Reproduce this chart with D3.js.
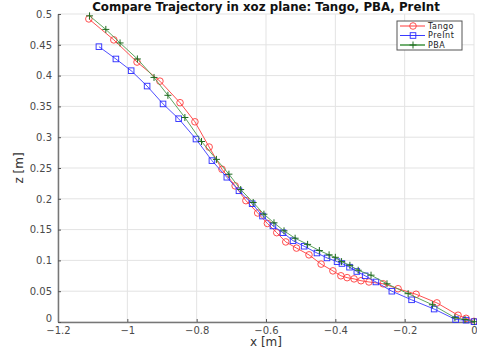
<!DOCTYPE html>
<html>
<head>
<meta charset="utf-8">
<script src="https://cdn.jsdelivr.net/npm/d3@7"></script>
<style>
  body { margin: 0; background: #fff; }
  text { font-family: "DejaVu Sans", sans-serif; }
</style>
</head>
<body>
<div id="chart"></div>
<script>
// trajectory data (x [m], z [m])
var tangoX = [-1.111, -1.039, -0.972, -0.906, -0.848, -0.805, -0.764, -0.727, -0.689, -0.658,
  -0.624, -0.596, -0.569, -0.543, -0.512, -0.476, -0.441, -0.407, -0.384, -0.366,
  -0.346, -0.326, -0.303, -0.262, -0.219, -0.167, -0.107, -0.046, -0.023, 0.0];
var tangoZ = [0.492, 0.458, 0.422, 0.391, 0.356, 0.325, 0.284, 0.248, 0.221, 0.197,
  0.177, 0.160, 0.145, 0.130, 0.120, 0.109, 0.094, 0.083, 0.075, 0.072,
  0.070, 0.067, 0.065, 0.062, 0.054, 0.045, 0.031, 0.011, 0.006, 0.001];

var preintX = [-1.082, -1.033, -0.989, -0.943, -0.897, -0.852, -0.802, -0.756, -0.713, -0.678,
  -0.640, -0.610, -0.580, -0.551, -0.522, -0.490, -0.453, -0.424, -0.395, -0.381,
  -0.359, -0.338, -0.314, -0.283, -0.237, -0.180, -0.115, -0.053, -0.023, 0.0];
var preintZ = [0.447, 0.427, 0.408, 0.383, 0.354, 0.330, 0.297, 0.262, 0.235, 0.213,
  0.192, 0.172, 0.156, 0.145, 0.132, 0.123, 0.112, 0.104, 0.098, 0.095,
  0.089, 0.082, 0.075, 0.065, 0.050, 0.036, 0.021, 0.004, 0.003, 0.0005];

var pbaX = [-1.109, -1.062, -1.021, -0.971, -0.923, -0.883, -0.834, -0.786, -0.743, -0.707,
  -0.673, -0.637, -0.606, -0.577, -0.548, -0.516, -0.480, -0.446, -0.418, -0.400,
  -0.382, -0.358, -0.334, -0.297, -0.251, -0.190, -0.120, -0.055, -0.026, 0.001];
var pbaZ = [0.497, 0.475, 0.453, 0.427, 0.397, 0.368, 0.332, 0.293, 0.264, 0.240,
  0.215, 0.194, 0.175, 0.161, 0.148, 0.136, 0.126, 0.116, 0.109, 0.105,
  0.098, 0.092, 0.084, 0.076, 0.062, 0.046, 0.028, 0.007, 0.004, 0.0005];

var xTicks = [-1.2, -1, -0.8, -0.6, -0.4, -0.2, 0];
var zTicks = [0, 0.05, 0.1, 0.15, 0.2, 0.25, 0.3, 0.35, 0.4, 0.45, 0.5];

var titleText = 'Compare Trajectory in xoz plane: Tango, PBA, PreInt';
var seriesNames = ['Tango', 'PreInt', 'PBA'];

// set the dimensions and margins of the graph
var margin = {top: 14, right: 3, bottom: 31, left: 58},
  width = 477 - margin.left - margin.right,
  height = 353 - margin.top - margin.bottom;

var svg = d3
  .select('#chart')
  .append('svg')
  .attr('width', width + margin.left + margin.right)
  .attr('height', height + margin.top + margin.bottom);

var g = svg.append('g')
  .attr('transform', 'translate(' + margin.left + ',' + margin.top + ')');

var x = d3.scaleLinear().domain([-1.2, 0]).range([0, width]);
var y = d3.scaleLinear().domain([0, 0.5]).range([height, 0]);

// grid
g.append('g')
  .selectAll('line.vg')
  .data(xTicks)
  .enter()
  .append('line')
  .attr('x1', function (d) { return x(d); })
  .attr('x2', function (d) { return x(d); })
  .attr('y1', 0)
  .attr('y2', height)
  .attr('stroke', '#e3e3e3')
  .attr('stroke-width', 1);
g.append('g')
  .selectAll('line.hg')
  .data(zTicks)
  .enter()
  .append('line')
  .attr('x1', 0)
  .attr('x2', width)
  .attr('y1', function (d) { return y(d); })
  .attr('y2', function (d) { return y(d); })
  .attr('stroke', '#e3e3e3')
  .attr('stroke-width', 1);

// axes (ticks pointing inward, matlab style)
var xAxis = g.append('g')
  .attr('transform', 'translate(0,' + height + ')')
  .call(d3.axisBottom(x).tickValues(xTicks).tickSize(-3).tickPadding(6)
    .tickFormat(function (d) { return d3.format('')(+d.toFixed(1)); }).tickSizeOuter(0));
var yAxis = g.append('g')
  .call(d3.axisLeft(y).tickValues(zTicks).tickSize(-3).tickPadding(6)
    .tickFormat(function (d) { return d3.format('')(+d.toFixed(2)); }).tickSizeOuter(0));

[xAxis, yAxis].forEach(function (a) {
  a.select('.domain').attr('stroke', '#777').attr('stroke-width', 1.5);
  a.selectAll('.tick line').attr('stroke', '#555');
  a.selectAll('.tick text').attr('fill', '#4a4a4a').style('font-size', '10px');
});
xAxis.selectAll('.tick text').attr('dy', '0.62em');
// lift the "0" of the z axis a little so it clears "-1.2"
yAxis.selectAll('.tick text').filter(function (d) { return d === 0; }).attr('dy', '-0.05em');

// axis labels
svg.append('text')
  .attr('x', margin.left + width / 2)
  .attr('y', 346)
  .attr('text-anchor', 'middle')
  .attr('fill', '#333')
  .style('font-size', '12px')
  .text('x [m]');
svg.append('text')
  .attr('transform', 'translate(23,' + (margin.top + height / 2) + ') rotate(-90)')
  .attr('text-anchor', 'middle')
  .attr('fill', '#333')
  .style('font-size', '12px')
  .text('z [m]');

// title
svg.append('text')
  .attr('x', 266)
  .attr('y', 11)
  .attr('text-anchor', 'middle')
  .attr('fill', '#111')
  .style('font-size', '11.8px')
  .style('font-weight', 'bold')
  .text(titleText);

var series = [
  {name: seriesNames[0], xs: tangoX, zs: tangoZ, line: '#ff3b3b', mark: '#ff3b3b', shape: 'circle'},
  {name: seriesNames[1], xs: preintX, zs: preintZ, line: '#3b3bff', mark: '#2a2aff', shape: 'square'},
  {name: seriesNames[2], xs: pbaX, zs: pbaZ, line: '#4c9a4c', mark: '#1f6b1f', shape: 'plus'}
];

var line = d3.line()
  .x(function (d) { return x(d[0]); })
  .y(function (d) { return y(d[1]); });

function drawMarker(sel, shape, color) {
  if (shape === 'circle') {
    sel.append('circle').attr('r', 3.3).attr('fill', 'none').attr('stroke', color).attr('stroke-width', 0.9);
  } else if (shape === 'square') {
    sel.append('rect').attr('x', -2.8).attr('y', -2.8).attr('width', 5.6).attr('height', 5.6)
      .attr('fill', 'none').attr('stroke', color).attr('stroke-width', 0.9);
  } else {
    sel.append('path').attr('d', 'M-3.5,0H3.5M0,-3.5V3.5').attr('stroke', color).attr('stroke-width', 1);
  }
}

series.forEach(function (s) {
  var pts = s.xs.map(function (v, i) { return [v, s.zs[i]]; });
  g.append('path')
    .datum(pts)
    .attr('fill', 'none')
    .attr('stroke', s.line)
    .attr('stroke-width', 0.9)
    .attr('d', line);
  g.append('g')
    .selectAll('g')
    .data(pts)
    .enter()
    .append('g')
    .attr('transform', function (d) { return 'translate(' + x(d[0]) + ',' + y(d[1]) + ')'; })
    .each(function () { drawMarker(d3.select(this), s.shape, s.mark); });
});

// legend
var legend = svg.append('g').attr('transform', 'translate(397,21)');
legend.append('rect')
  .attr('width', 65)
  .attr('height', 29)
  .attr('fill', '#fff')
  .attr('stroke', '#555')
  .attr('stroke-width', 1);
series.forEach(function (s, i) {
  var row = legend.append('g').attr('transform', 'translate(0,' + (5 + i * 9.5) + ')');
  row.append('line')
    .attr('x1', 3).attr('x2', 28).attr('y1', 0).attr('y2', 0)
    .attr('stroke', s.line).attr('stroke-width', i === 2 ? 1.6 : 1);
  var m = row.append('g').attr('transform', 'translate(16,0)');
  drawMarker(m, s.shape, s.mark);
  row.append('text')
    .attr('x', 31)
    .attr('y', 0)
    .attr('dy', '0.35em')
    .attr('fill', '#222')
    .style('font-size', '8px')
    .style('letter-spacing', '0.5px')
    .text(s.name);
});
</script>
</body>
</html>
